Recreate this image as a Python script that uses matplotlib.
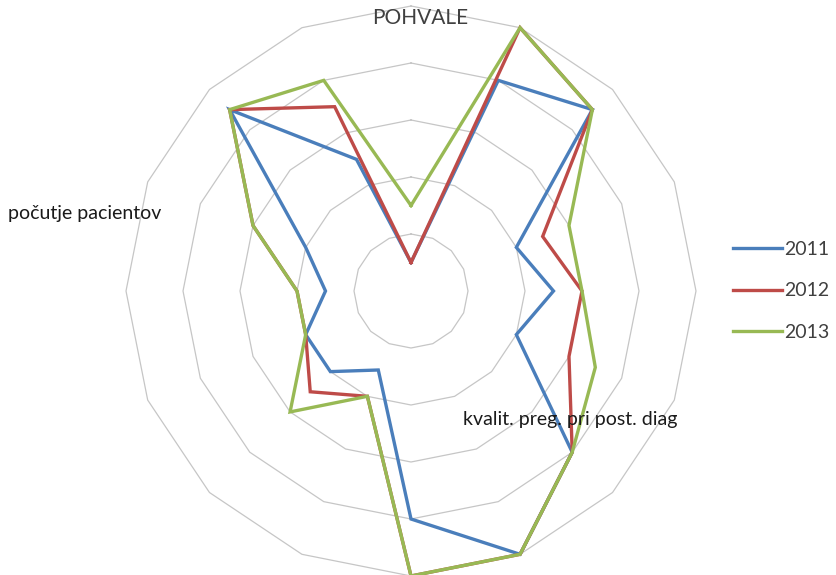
import numpy as np
import matplotlib
matplotlib.use("Agg")
import matplotlib.pyplot as plt

plt.rcParams["font.family"] = ["Lato", "DejaVu Sans"]

# 16 survey items, clockwise from the top; only three carry a visible caption
N_CATEGORIES = 16
TOP_LABEL = "POHVALE"
LEFT_LABEL = "počutje pacientov"
LOWER_LABEL = "kvalit. preg. pri post. diag"

YEARS = ["2011", "2012", "2013"]
scores_2011 = [0.5, 4.0, 4.5, 2.0, 2.5, 2.0, 4.0, 5.0, 4.0, 1.5, 2.0, 2.0, 1.5, 2.0, 4.5, 2.5]
scores_2012 = [0.5, 5.0, 4.5, 2.5, 3.0, 3.0, 4.0, 5.0, 5.0, 2.0, 2.5, 2.0, 2.0, 3.0, 4.5, 3.5]
scores_2013 = [1.5, 5.0, 4.5, 3.0, 3.0, 3.5, 4.0, 5.0, 5.0, 2.0, 3.0, 2.0, 2.0, 3.0, 4.5, 4.0]
RINGS = [1, 2, 3, 4, 5]

COLORS = ["#4a7ebb", "#be4b48", "#98b954"]


def closed(values):
    return list(values) + [values[0]]


def main() -> None:
    fig = plt.figure(figsize=(8.36, 5.75), dpi=100)
    ax = fig.add_axes([0.15072, -0.00174, 0.68182, 0.99130], projection="polar")
    ax.set_theta_zero_location("N")
    ax.set_theta_direction(-1)
    ax.set_ylim(0, RINGS[-1])
    ax.grid(False)
    ax.set_xticks([])
    ax.set_yticks([])
    ax.spines["polar"].set_visible(False)
    ax.patch.set_visible(False)

    angles = np.linspace(0, 2 * np.pi, N_CATEGORIES, endpoint=False)
    theta = closed(list(angles))

    # polygonal gridlines instead of matplotlib's circles
    for r in RINGS:
        ax.plot(theta, [r] * len(theta), color="#c6c6c6", lw=0.9, zorder=1, clip_on=False)

    for year, scores, color in zip(YEARS, [scores_2011, scores_2012, scores_2013], COLORS):
        ax.plot(theta, closed(scores), color=color, lw=2.4, label=year,
                zorder=3, clip_on=False, solid_joinstyle="miter")

    fig.text(420 / 836, 1 - 18 / 575, TOP_LABEL, ha="center", va="center",
             fontsize=15, color="#404040")
    fig.text(8 / 836, 1 - 213 / 575, LEFT_LABEL, ha="left", va="center",
             fontsize=14, color="#1a1a1a")
    fig.text(463 / 836, 1 - 419 / 575, LOWER_LABEL, ha="left", va="center",
             fontsize=14, color="#1a1a1a")

    fig.legend(loc="center left", bbox_to_anchor=(733 / 836, 1 - 291 / 575),
               frameon=False, fontsize=14, handlelength=2.5, handletextpad=0.15,
               labelspacing=1.25, borderpad=0, borderaxespad=0, labelcolor="#404040")

    fig.savefig("out.png", dpi=100)


if __name__ == "__main__":
    main()
